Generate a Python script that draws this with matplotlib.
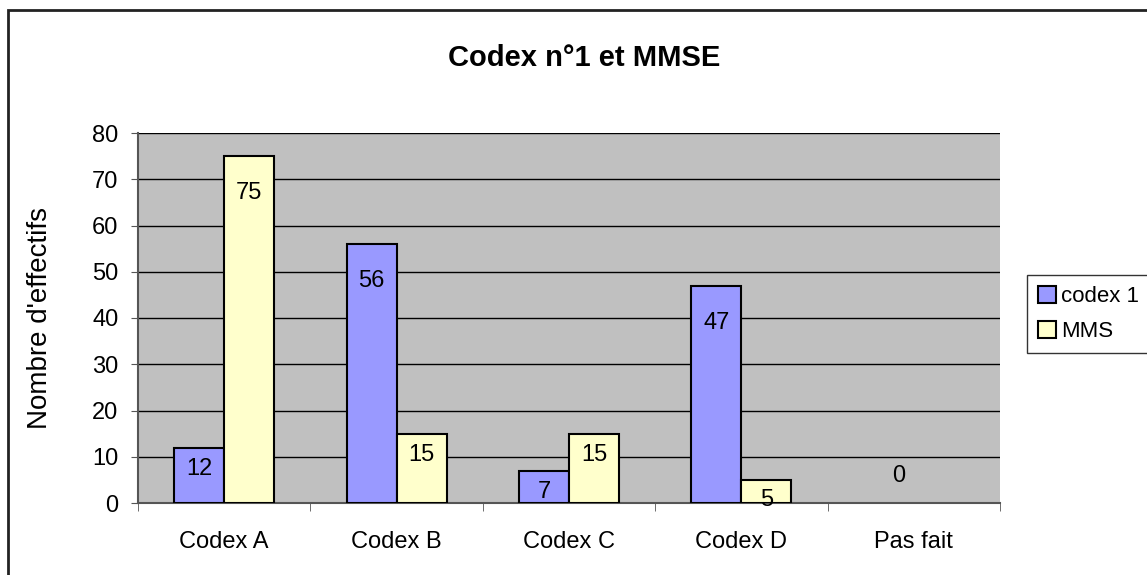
import numpy as np
import matplotlib
matplotlib.use('Agg')
import matplotlib.pyplot as plt
from matplotlib.patches import Rectangle

plt.rcParams['font.family'] = ['Liberation Sans', 'DejaVu Sans']

categories = ['Codex A', 'Codex B', 'Codex C', 'Codex D', 'Pas fait']
codex1 = [12, 56, 7, 47, 0]
mms = [75, 15, 15, 5, np.nan]
series_names = ['codex 1', 'MMS']

fig = plt.figure(figsize=(11.47, 5.75), dpi=100)
fig.patches.append(Rectangle((8/1147, -0.1), 1.2, 1 - 10/575 + 0.1, transform=fig.transFigure,
                             fill=False, edgecolor='#222222', linewidth=2))
ax = fig.add_axes([138/1147, 1 - 503/575, 862/1147, 370/575])
ax.set_facecolor('#C0C0C0')

x = np.arange(len(categories))
w = 0.29
b1 = ax.bar(x - w/2, codex1, w, color='#9999FF', edgecolor='black', linewidth=1.5, label=series_names[0], zorder=3)
b2 = ax.bar(x + w/2, mms, w, color='#FFFFCC', edgecolor='black', linewidth=1.5, label=series_names[1], zorder=3)
for r in b1.patches:
    if r.get_height() == 0:
        r.set_edgecolor('none')

def label_y(v):
    if v == 0:
        return 5.8
    if v > 20:
        return v - 8
    return max(v - 4.7, 0.6)

for xs, vals in [(x - w/2, codex1), (x + w/2, mms)]:
    for xi, v in zip(xs, vals):
        if np.isnan(v):
            continue
        xt = xi + (0.06 if v == 0 else 0)
        ax.text(xt, label_y(v), f'{v:g}', ha='center', va='center', fontsize=17, zorder=4)

ax.set_xlim(-0.5, len(categories) - 0.5)
ax.set_ylim(0, 80)
ax.set_yticks(range(0, 81, 10))
ax.yaxis.grid(True, color='black', linewidth=1)
ax.set_axisbelow(True)
ax.set_xticks(x)
ax.set_xticklabels(categories, fontsize=17)
ax.set_xticks(np.arange(len(categories) + 1) - 0.5, minor=True)
ax.tick_params(axis='x', which='major', length=0, pad=20)
ax.tick_params(axis='x', which='minor', length=6, color='#555555')
ax.tick_params(axis='y', labelsize=17, length=5, pad=9, color='#555555')
for s in ['top', 'right']:
    ax.spines[s].set_visible(False)
for s in ['left', 'bottom']:
    ax.spines[s].set_color('#555555')
    ax.spines[s].set_linewidth(1.5)

ax.set_ylabel("Nombre d'effectifs", fontsize=20, labelpad=28)
fig.text(584/1147, 1 - 58/575, 'Codex n°1 et MMSE', ha='center', va='center', fontsize=21, fontweight='bold')

leg = fig.legend(handles=[b1, b2], labels=series_names, loc='upper left',
                 bbox_to_anchor=(1027/1147, 1 - 275/575), fontsize=16, frameon=True,
                 fancybox=False, edgecolor='black', handlelength=0.8, handleheight=0.8,
                 handletextpad=0.25, borderpad=0.5, labelspacing=0.6, borderaxespad=0)
leg.get_frame().set_linewidth(1)

fig.savefig('out.png', dpi=100)
